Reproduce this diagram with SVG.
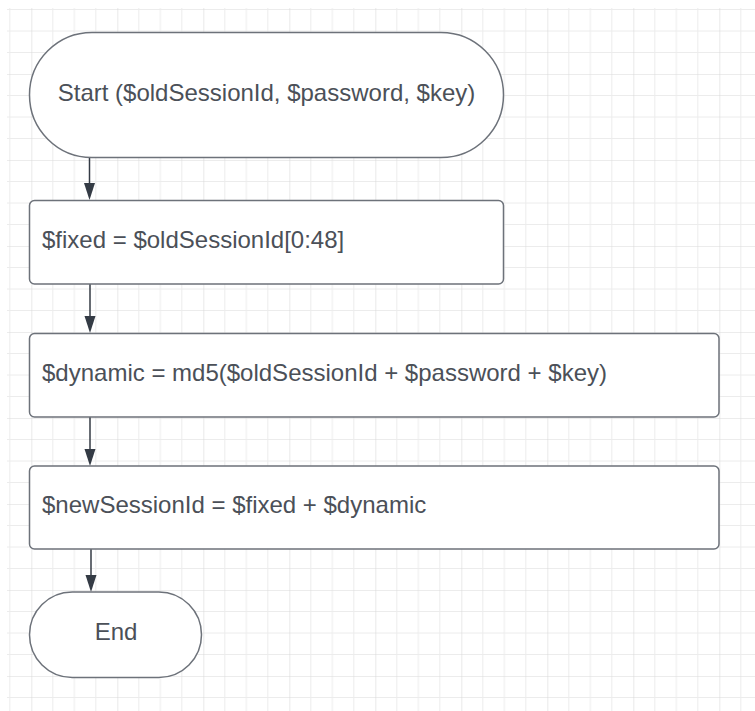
<svg xmlns="http://www.w3.org/2000/svg" width="755" height="711" viewBox="0 0 755 711">
<defs>
<pattern id="grid" patternUnits="userSpaceOnUse" x="31.3" y="74" width="86" height="86">
<path d="M21.5 0V86M43 0V86M64.5 0V86M0 21.5H86M0 43H86M0 64.5H86" stroke="#ececec" stroke-width="1" fill="none"/>
<path d="M0 0V86M0 0H86" stroke="#dadada" stroke-width="1.2" fill="none"/>
</pattern>
</defs>
<style>
.shape{fill:#ffffff;stroke:#6d727a;stroke-width:1.5}
.lbl{font-family:"Liberation Sans",Arial,sans-serif;font-size:24px;fill:#4b5058}
.conn{stroke:#343b45;stroke-width:1.5;fill:none}
.head{fill:#343b45}
</style>
<rect x="0" y="0" width="755" height="711" fill="#ffffff"/>
<rect x="7" y="8" width="748" height="703" fill="url(#grid)"/>
<g id="connectors">
<path class="conn" d="M89.5 158V183"/>
<path class="head" d="M84 183L95 183L89.5 200Z"/>
<path class="conn" d="M90 284V316"/>
<path class="head" d="M84.5 316L95.5 316L90 333Z"/>
<path class="conn" d="M90 417V449"/>
<path class="head" d="M84.5 449L95.5 449L90 466Z"/>
<path class="conn" d="M91 549V575"/>
<path class="head" d="M85.5 575L96.5 575L91 592Z"/>
</g>
<g id="start">
<rect class="shape" x="29.5" y="32.5" width="474" height="125" rx="62.5" ry="62.5"/>
<text class="lbl" x="266.5" y="101" text-anchor="middle">Start ($oldSessionId, $password, $key)</text>
</g>
<g id="fixed">
<rect class="shape" x="29.5" y="200.5" width="474" height="83.5" rx="5"/>
<text class="lbl" x="42" y="247.5">$fixed = $oldSessionId[0:48]</text>
</g>
<g id="dynamic">
<rect class="shape" x="29.5" y="333.5" width="689.5" height="83.5" rx="5"/>
<text class="lbl" x="42" y="381">$dynamic = md5($oldSessionId + $password + $key)</text>
</g>
<g id="newsession">
<rect class="shape" x="29.5" y="466" width="689.5" height="83" rx="5"/>
<text class="lbl" x="42" y="512.5">$newSessionId = $fixed + $dynamic</text>
</g>
<g id="end">
<rect class="shape" x="29.5" y="592" width="172" height="85.5" rx="42.75" ry="42.75"/>
<text class="lbl" x="116" y="640" text-anchor="middle">End</text>
</g>
</svg>
